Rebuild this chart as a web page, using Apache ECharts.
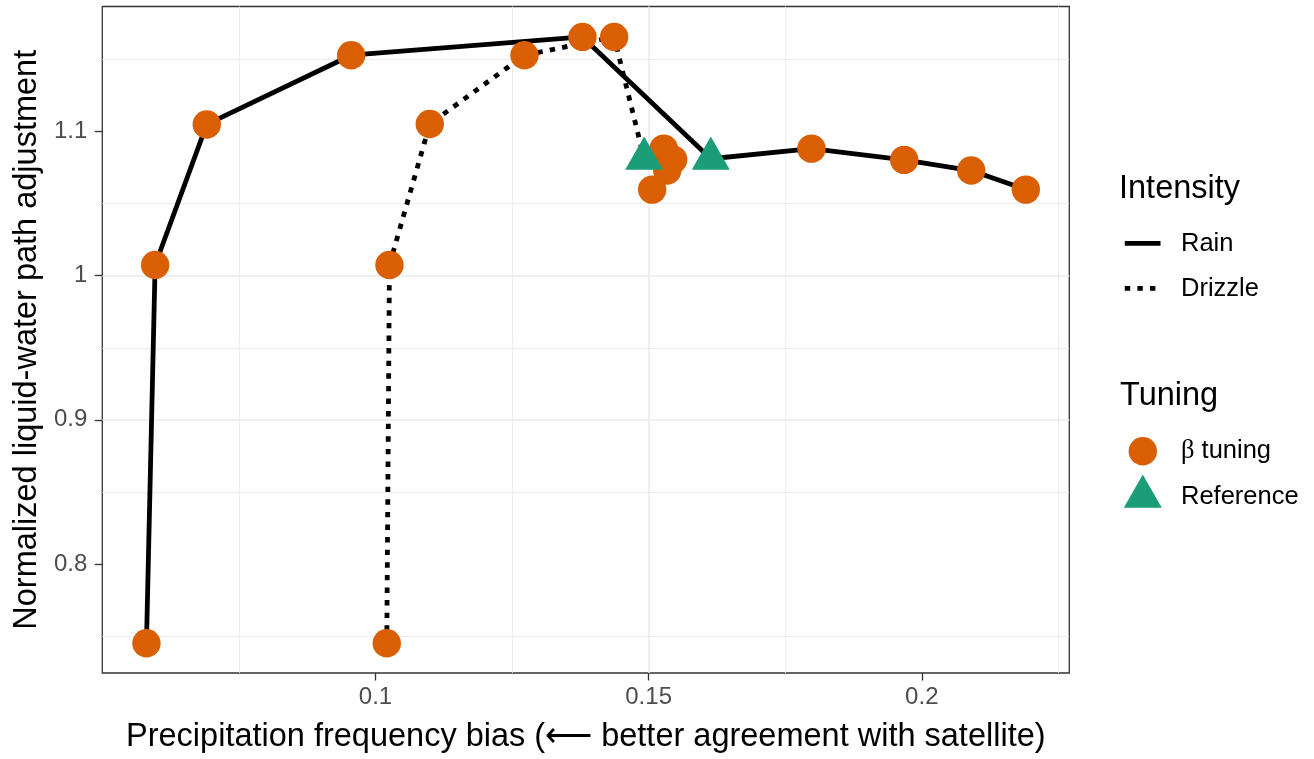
<!DOCTYPE html>
<html>
<head>
<meta charset="utf-8">
<script src="https://cdn.jsdelivr.net/npm/echarts@6/dist/echarts.min.js"></script>
<style>
  html, body { margin: 0; padding: 0; background: #ffffff; }
  #chart { width: 1314px; height: 759px; }
</style>
</head>
<body>
<div id="chart"></div>
<script>
// Precipitation frequency bias against normalized liquid-water path adjustment,
// for the rain and drizzle intensity classes under beta tuning.
// Points are listed in tuning order; each path passes through its reference run.

const rainBias     = [0.05808, 0.05967, 0.06912, 0.09555, 0.13789, 0.16138, 0.17981, 0.19678, 0.20904, 0.21904];
const rainLwp      = [0.7450, 1.0074, 1.1049, 1.1529, 1.1656, 1.0811, 1.0881, 1.0803, 1.0729, 1.0597];
const rainTuning   = ['β tuning', 'β tuning', 'β tuning', 'β tuning', 'β tuning', 'Reference', 'β tuning', 'β tuning', 'β tuning', 'β tuning'];

const drizzleBias   = [0.10207, 0.10256, 0.10994, 0.12727, 0.14369, 0.14918, 0.15277, 0.15449, 0.15340, 0.15065];
const drizzleLwp    = [0.7450, 1.0074, 1.1052, 1.1529, 1.1656, 1.0811, 1.0881, 1.0805, 1.0729, 1.0597];
const drizzleTuning = ['β tuning', 'β tuning', 'β tuning', 'β tuning', 'β tuning', 'Reference', 'β tuning', 'β tuning', 'β tuning', 'β tuning'];

const xTickValues = [0.1, 0.15, 0.2];
const yTickValues = [0.8, 0.9, 1, 1.1];
const xRange = [0.05, 0.227];
const yRange = [0.7244, 1.1867];

const xTitle = 'Precipitation frequency bias (\u27F5 better agreement with satellite)';
const yTitle = 'Normalized liquid-water path adjustment';

const ORANGE = '#D95F02';
const GREEN = '#1B9E77';
const FONT = '"Liberation Sans", Arial, Helvetica, sans-serif';
const LINE_W = 4.8;
const DOT_DASH = [5.4, 7.2];
const TITLE_SIZE = 32.5;
const TEXT_SIZE = 25.5;
const TICK_SIZE = 24;

function pairs(xs, ys) {
  return xs.map((x, i) => [x, ys[i]]);
}
function pick(xs, ys, tags, tag) {
  const out = [];
  xs.forEach((x, i) => { if (tags[i] === tag) out.push([x, ys[i]]); });
  return out;
}
function fmt(v) { return String(+(+v).toFixed(3)); }

const circlePts = pick(rainBias, rainLwp, rainTuning, 'β tuning')
  .concat(pick(drizzleBias, drizzleLwp, drizzleTuning, 'β tuning'));
const trianglePts = pick(rainBias, rainLwp, rainTuning, 'Reference')
  .concat(pick(drizzleBias, drizzleLwp, drizzleTuning, 'Reference'));

const chart = echarts.init(document.getElementById('chart'), null, { renderer: 'canvas' });

const gridLine = { color: '#EBEBEB', width: 1.6 };
const minorLine = { color: '#EBEBEB', width: 0.9 };
const tickStyle = { color: '#333333', width: 1.3 };

// Legend keys and titles, laid out to the right of the panel
const legendTxt = (x, y, text, size) => ({
  type: 'text', x: x, y: y, silent: true,
  style: { text: text, fill: '#000', font: size + 'px ' + FONT, textAlign: 'left', textVerticalAlign: 'middle' }
});

const legendGraphics = [
  legendTxt(1119, 189, 'Intensity', TITLE_SIZE),
  { type: 'rect', silent: true, shape: { x: 1124.8, y: 243.3 - LINE_W / 2, width: 35.7, height: LINE_W }, style: { fill: '#000' } },
  legendTxt(1181, 244, 'Rain', TEXT_SIZE),
  { type: 'line', silent: true, shape: { x1: 1124.8, y1: 288.4, x2: 1160.5, y2: 288.4 },
    style: { stroke: '#000', lineWidth: LINE_W, lineDash: DOT_DASH, lineCap: 'butt' } },
  legendTxt(1181, 289, 'Drizzle', TEXT_SIZE),
  legendTxt(1120, 396, 'Tuning', TITLE_SIZE),
  { type: 'circle', silent: true, shape: { cx: 1142.8, cy: 451.3, r: 14.2 }, style: { fill: ORANGE } },
  {
    type: 'text', x: 1181, y: 451, silent: true,
    style: {
      text: '{g|β} tuning', fill: '#000', font: TEXT_SIZE + 'px ' + FONT, textAlign: 'left', textVerticalAlign: 'middle',
      rich: { g: { fontFamily: '"Liberation Serif", "DejaVu Serif", serif', fontSize: TEXT_SIZE + 1, fill: '#000' } }
    }
  },
  { type: 'polygon', silent: true, shape: { points: [[1142.8, 474.4], [1161.8, 507.8], [1123.8, 507.8]] }, style: { fill: GREEN } },
  legendTxt(1181, 497, 'Reference', TEXT_SIZE)
];

chart.setOption({
  animation: false,
  backgroundColor: '#ffffff',
  grid: {
    left: 102.3, right: 244.7, top: 6.5, bottom: 84,
    show: true, borderColor: '#333333', borderWidth: 1.3, backgroundColor: 'transparent',
    containLabel: false
  },
  xAxis: {
    type: 'value',
    min: xRange[0], max: xRange[1], interval: 0.05,
    name: xTitle, nameLocation: 'middle', nameGap: 48,
    nameTextStyle: { fontSize: TITLE_SIZE, color: '#000', fontFamily: FONT },
    axisLine: { show: false },
    axisTick: { show: true, length: 7.5, lineStyle: tickStyle, customValues: xTickValues },
    axisLabel: { customValues: xTickValues, formatter: fmt, fontSize: TICK_SIZE, color: '#4D4D4D', fontFamily: FONT, margin: 12 },
    splitLine: { show: true, showMinLine: false, showMaxLine: false, lineStyle: gridLine },
    minorTick: { show: false, splitNumber: 2 },
    minorSplitLine: { show: true, lineStyle: minorLine }
  },
  yAxis: {
    type: 'value',
    min: yRange[0], max: yRange[1], splitNumber: 5,
    name: yTitle, nameLocation: 'middle', nameGap: 59, nameRotate: 90,
    nameTextStyle: { fontSize: TITLE_SIZE, color: '#000', fontFamily: FONT },
    axisLine: { show: false },
    axisTick: { show: true, length: 7.5, lineStyle: tickStyle, customValues: yTickValues },
    axisLabel: { customValues: yTickValues, formatter: fmt, fontSize: TICK_SIZE, color: '#4D4D4D', fontFamily: FONT, margin: 15 },
    splitLine: { show: true, showMinLine: false, showMaxLine: false, lineStyle: gridLine },
    minorTick: { show: false, splitNumber: 2 },
    minorSplitLine: { show: true, lineStyle: minorLine }
  },
  series: [
    {
      name: 'Rain', type: 'line', data: pairs(rainBias, rainLwp), z: 2,
      symbol: 'none', showSymbol: false, silent: true,
      lineStyle: { color: '#000', width: LINE_W, cap: 'butt', join: 'round' }
    },
    {
      name: 'Drizzle', type: 'line', data: pairs(drizzleBias, drizzleLwp), z: 2,
      symbol: 'none', showSymbol: false, silent: true,
      lineStyle: { color: '#000', width: LINE_W, type: DOT_DASH, cap: 'butt', join: 'round' }
    },
    {
      name: 'β tuning', type: 'scatter', data: circlePts, z: 5,
      symbol: 'circle', symbolSize: 28.4, silent: true,
      itemStyle: { color: ORANGE, opacity: 1 }
    },
    {
      name: 'Reference', type: 'scatter', data: trianglePts, z: 6,
      symbol: 'triangle', symbolSize: [38, 33.4], symbolOffset: [0, -5.6], silent: true,
      itemStyle: { color: GREEN, opacity: 1 }
    }
  ],
  graphic: legendGraphics
});
</script>
</body>
</html>
